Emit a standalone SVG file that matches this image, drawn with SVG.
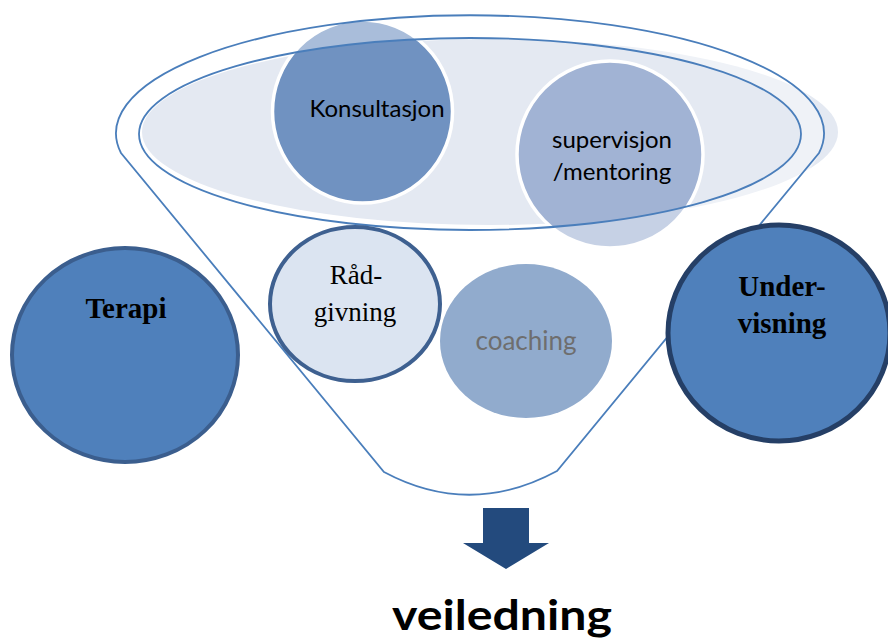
<svg xmlns="http://www.w3.org/2000/svg" width="888" height="644" viewBox="0 0 888 644">
<style>
.outline{fill:none;stroke:#4a7ebb;stroke-width:1.8}
.sans{font-family:Lato,"Open Sans","Liberation Sans",sans-serif}
.serif{font-family:"Liberation Serif","DejaVu Serif",serif}
.t{text-anchor:middle;fill:#000}
</style>
<rect width="888" height="644" fill="#ffffff"/>
<g id="funnel-top">
  <ellipse cx="490" cy="132" rx="348" ry="93" fill="#e4e9f2"/>
</g>
<g id="konsultasjon">
  <ellipse cx="362.5" cy="111.5" rx="90" ry="91.5" fill="#7092c1" stroke="#ffffff" stroke-width="3.5"/>
</g>
<g id="supervisjon">
  <ellipse cx="610" cy="154.5" rx="93" ry="93.5" fill="#a1b3d4" stroke="#ffffff" stroke-width="3.5"/>
</g>
<g id="funnel">
  <path d="M116 133 A354 128 0 1 1 824 133 A354 128 0 1 1 116 133 Z M139 134 A331 96 0 1 0 801 134 A331 96 0 1 0 139 134 Z" fill="#ffffff" fill-opacity="0.4" fill-rule="evenodd"/>
  <path class="outline" d="M121 153 A354 118 0 1 1 819 153 L557 471 Q470 518 384 472 Z"/>
  <ellipse class="outline" cx="470" cy="134" rx="331" ry="96"/>
</g>
<g id="konsultasjon-label">
  <text class="sans t" x="377" y="117" font-size="24">Konsultasjon</text>
</g>
<g id="supervisjon-label">
  <text class="sans t" x="612" y="148" font-size="24">supervisjon</text>
  <text class="sans t" x="612" y="180" font-size="24">/mentoring</text>
</g>
<g id="radgivning">
  <ellipse cx="355" cy="304" rx="85" ry="77" fill="#dbe4f1" stroke="#3e6090" stroke-width="4"/>
  <text class="serif t" x="356" y="284" font-size="27">Råd-</text>
  <text class="serif t" x="355" y="321" font-size="27">givning</text>
</g>
<g id="coaching">
  <ellipse cx="526" cy="341" rx="86" ry="77" fill="#91abcd"/>
  <text class="sans" x="526" y="350" font-size="26" text-anchor="middle" fill="#6e6e6e">coaching</text>
</g>
<g id="terapi">
  <ellipse cx="125" cy="355" rx="113" ry="107" fill="#4f80bb" stroke="#3b5e8e" stroke-width="4"/>
  <text class="serif t" x="126" y="318" font-size="29" font-weight="bold">Terapi</text>
</g>
<g id="undervisning">
  <ellipse cx="779" cy="333" rx="111" ry="108" fill="#4f80bb" stroke="#253f66" stroke-width="5"/>
  <text class="serif t" x="782" y="296" font-size="29" font-weight="bold">Under-</text>
  <text class="serif t" x="782" y="333" font-size="29" font-weight="bold">visning</text>
</g>
<g id="connectors">
  <polygon points="483,508 529,508 529,543 549,543 506,569 463,543 483,543" fill="#234a7d"/>
</g>
<g id="veiledning">
  <text class="sans t" x="502" y="630" font-size="42" font-weight="bold" textLength="220" lengthAdjust="spacingAndGlyphs">veiledning</text>
</g>
</svg>
